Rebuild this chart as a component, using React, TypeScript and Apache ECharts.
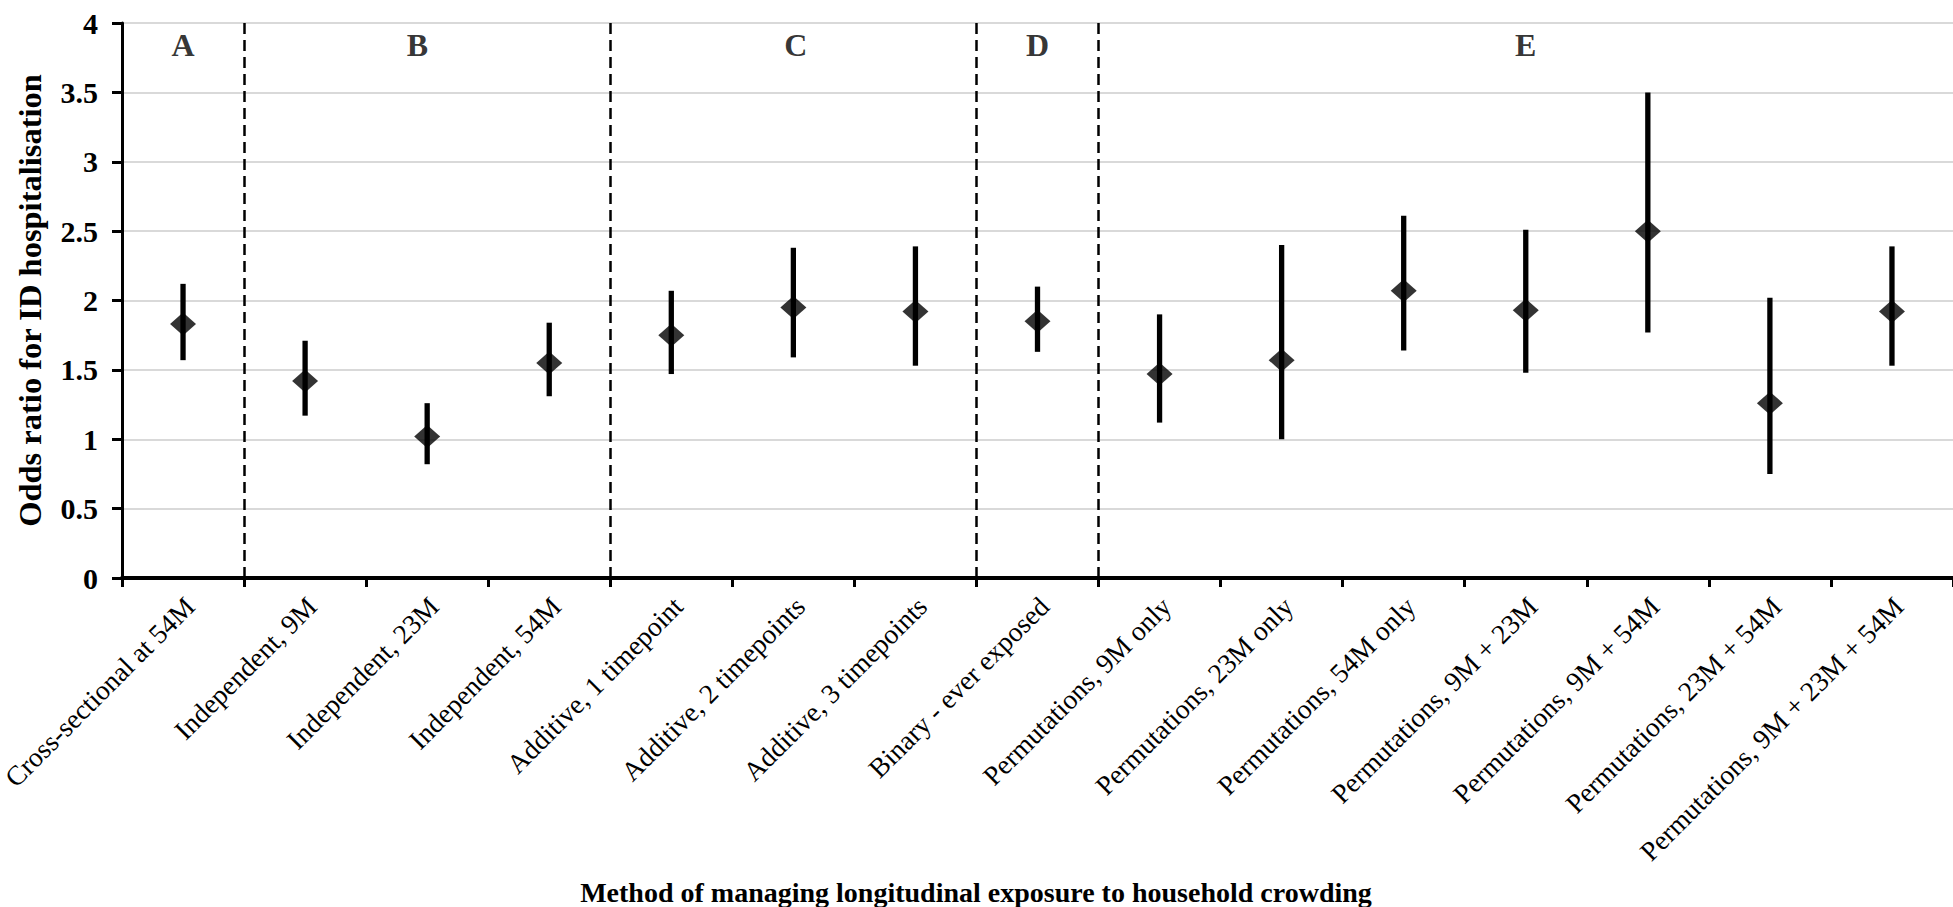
import React, { useEffect, useRef } from "react";
import * as echarts from "echarts";

const categories = [
  "Cross-sectional at 54M",
  "Independent, 9M",
  "Independent, 23M",
  "Independent, 54M",
  "Additive, 1 timepoint",
  "Additive, 2 timepoints",
  "Additive, 3 timepoints",
  "Binary - ever exposed",
  "Permutations, 9M only",
  "Permutations, 23M only",
  "Permutations, 54M only",
  "Permutations, 9M + 23M",
  "Permutations, 9M + 54M",
  "Permutations, 23M + 54M",
  "Permutations, 9M + 23M + 54M",
];
const oddsRatio = [1.83, 1.42, 1.02, 1.55, 1.75, 1.95, 1.92, 1.85, 1.47, 1.57, 2.07, 1.93, 2.5, 1.26, 1.92];
const lowerCI = [1.57, 1.17, 0.82, 1.31, 1.47, 1.59, 1.53, 1.63, 1.12, 1.0, 1.64, 1.48, 1.77, 0.75, 1.53];
const upperCI = [2.12, 1.71, 1.26, 1.84, 2.07, 2.38, 2.39, 2.1, 1.9, 2.4, 2.61, 2.51, 3.5, 2.02, 2.39];

const sectionLabels = ["A", "B", "C", "D", "E"];
const sectionLabelX = [0.5, 2.42, 5.52, 7.5, 11.5];
const sectionLabelY = 3.84;
const sectionBoundaries = [1, 4, 7, 8];

const yMin = 0;
const yMax = 4;
const yInterval = 0.5;

const yTitle = "Odds ratio for ID hospitalisation";
const xTitle = "Method of managing longitudinal exposure to household crowding";

const FONT = "'Liberation Serif', 'Times New Roman', serif";

export default function App() {
  const ref = useRef<HTMLDivElement>(null);

  useEffect(() => {
    if (!ref.current) return;
    const chart = echarts.init(ref.current, undefined, { renderer: "svg" });

    const errData = categories.map((_, i) => [i, lowerCI[i], upperCI[i]]);

    chart.setOption({
      animation: false,
      backgroundColor: "#ffffff",
      grid: {
        left: 122,
        right: 0,
        top: 23,
        bottom: 329,
        containLabel: false,
        outerBoundsMode: "none",
      },
      xAxis: [
        {
          type: "category",
          data: categories,
          boundaryGap: true,
          axisLine: { show: true, lineStyle: { color: "#000", width: 4 } },
          axisTick: { show: true, length: 9, lineStyle: { color: "#000", width: 3 } },
          axisLabel: {
            interval: 0,
            rotate: 45,
            margin: 17,
            verticalAlign: "top",
            lineHeight: 20,
            color: "#000",
            fontSize: 27.5,
            fontFamily: FONT,
          },
          splitLine: { show: false },
        },
        {
          type: "value",
          min: 0,
          max: categories.length,
          show: false,
        },
      ],
      yAxis: {
        type: "value",
        min: yMin,
        max: yMax,
        interval: yInterval,
        name: yTitle,
        nameLocation: "middle",
        nameGap: 76,
        nameTextStyle: {
          color: "#000",
          fontSize: 32.5,
          fontWeight: "bold",
          fontFamily: FONT,
        },
        axisLine: { show: true, lineStyle: { color: "#000", width: 3 } },
        axisTick: { show: true, length: 10, lineStyle: { color: "#000", width: 3 } },
        axisLabel: {
          color: "#000",
          fontSize: 30,
          fontWeight: "bold",
          fontFamily: FONT,
          margin: 24,
        },
        splitLine: { show: true, lineStyle: { color: "#d9d9d9", width: 2 } },
      },
      graphic: [
        {
          type: "text",
          x: 976,
          y: 892,
          style: {
            text: xTitle,
            fill: "#000",
            fontSize: 28,
            fontWeight: "bold",
            fontFamily: FONT,
            align: "center",
            verticalAlign: "middle",
          },
        },
      ],
      series: [
        {
          type: "scatter",
          xAxisIndex: 1,
          yAxisIndex: 0,
          symbolSize: 1,
          itemStyle: { color: "rgba(0,0,0,0)" },
          silent: true,
          data: sectionLabels.map((s, i) => ({ name: s, value: [sectionLabelX[i], sectionLabelY] })),
          label: {
            show: true,
            position: "inside",
            formatter: "{b}",
            color: "#000",
            fontSize: 32,
            fontWeight: "bold",
            fontFamily: FONT,
          },
          markLine: {
            silent: true,
            symbol: ["none", "none"],
            label: { show: false },
            lineStyle: { color: "#000", width: 2.5, type: [11, 6] },
            data: sectionBoundaries.map((b) => ({ xAxis: b })),
          },
        },
        {
          type: "custom",
          xAxisIndex: 0,
          yAxisIndex: 0,
          silent: true,
          data: errData,
          renderItem: (params: any, api: any) => {
            const lo = api.coord([api.value(0), api.value(1)]);
            const hi = api.coord([api.value(0), api.value(2)]);
            return {
              type: "line",
              shape: { x1: lo[0], y1: lo[1], x2: hi[0], y2: hi[1] },
              style: { stroke: "#000", lineWidth: 5.3 },
            };
          },
        },
        {
          type: "scatter",
          xAxisIndex: 0,
          yAxisIndex: 0,
          symbol: "diamond",
          symbolSize: [26, 23],
          itemStyle: { color: "#000" },
          data: oddsRatio,
        },
      ],
    });

    return () => chart.dispose();
  }, []);

  return (
    <div
      ref={ref}
      style={{ position: "fixed", left: 0, top: 0, width: 1953, height: 907, background: "#fff" }}
    />
  );
}
